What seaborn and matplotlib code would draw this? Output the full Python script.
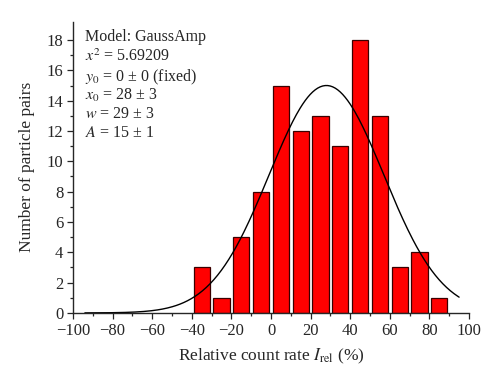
import numpy as np
import pandas as pd
import seaborn as sns
import matplotlib.pyplot as plt

# histogram bins (centres, %) and counts
bin_centres = [-35, -25, -15, -5, 5, 15, 25, 35, 45, 55, 65, 75, 85]
counts = [3, 1, 5, 8, 15, 12, 13, 11, 18, 13, 3, 4, 1]

# GaussAmp fit parameters as printed on the chart
fit_y0 = 0
fit_x0 = 28
fit_w = 29
fit_A = 15
fit_range = [-94, 95]

fit_lines = ["Model: GaussAmp",
             "$x^2$ = 5.69209",
             "$y_0$ = 0 \u00b1 0 (fixed)",
             "$x_0$ = 28 \u00b1 3",
             "$w$ = 29 \u00b1 3",
             "$A$ = 15 \u00b1 1"]

sns.set_style("ticks")
plt.rcParams['font.family'] = ['Liberation Serif', 'DejaVu Serif']
plt.rcParams['mathtext.fontset'] = 'stix'

df = pd.DataFrame({'rate': bin_centres, 'n': counts})
xf = np.linspace(fit_range[0], fit_range[1], 300)
fit = pd.DataFrame({'rate': xf,
                    'n': fit_y0 + fit_A * np.exp(-(xf - fit_x0) ** 2 / (2 * fit_w ** 2))})

fig, ax = plt.subplots(figsize=(5, 3.83), dpi=100)
sns.barplot(data=df, x='rate', y='n', native_scale=True, width=0.82,
            color='#ff0000', saturation=1, edgecolor='#3a0000', linewidth=0.9, ax=ax)
sns.lineplot(data=fit, x='rate', y='n', color='black', linewidth=1.0, ax=ax)

ax.set_xlim(-100, 100)
ax.set_ylim(0, 19.2)
ax.set_xticks(np.arange(-100, 101, 20))
ax.set_xticks(np.arange(-90, 100, 20), minor=True)
ax.set_yticks(np.arange(0, 19, 2))
ax.set_yticks(np.arange(1, 19, 2), minor=True)
ax.set_xticklabels([str(v).replace('-', '\u2212') for v in range(-100, 101, 20)])
ax.tick_params(which='major', direction='out', length=4, width=0.9, labelsize=12, pad=3)
ax.tick_params(which='minor', direction='out', length=2.5, width=0.9)
sns.despine(ax=ax)
for s in ['left', 'bottom']:
    ax.spines[s].set_linewidth(1.0)

ax.set_xlabel("Relative count rate $I_{\\rm rel}$ (%)", fontsize=12.5, labelpad=6)
ax.set_ylabel("Number of particle pairs", fontsize=12.5, labelpad=8)

for i, t in enumerate(fit_lines):
    ax.text(0.03, 0.975 - i * 0.066, t, transform=ax.transAxes, fontsize=11.5, va='top')

fig.subplots_adjust(left=0.146, right=0.938, bottom=0.183, top=0.943)
fig.savefig("out.png", dpi=100)
